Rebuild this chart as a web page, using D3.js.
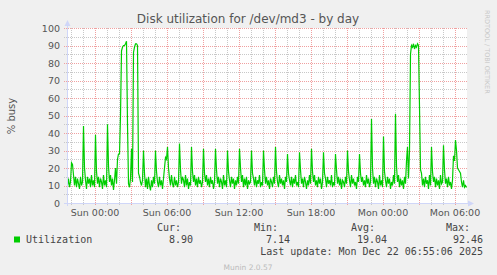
<!DOCTYPE html>
<html>
<head>
<meta charset="utf-8">
<script src="https://cdn.jsdelivr.net/npm/d3@7"></script>
<style>
  body { margin: 0; background: #f0f0f0; }
  text { font-family: "DejaVu Sans", sans-serif; }
  .mono { font-family: "DejaVu Sans Mono", monospace; }
</style>
</head>
<body>
<div id="chart"></div>
<script>
// 5 minute samples, Sat 21:40 -> Mon 06:55, one row per hour (first value = hh:00)
var start = new Date(2025, 11, 20, 21, 40)
var end = new Date(2025, 11, 22, 7, 0)

var utilization = [
    10, 14, 9, 12,                                         // Sat 21:40
    23, 22, 16, 10, 15, 9, 14, 11, 8, 15, 10, 12,          // Sat 22
    44, 20, 13, 8, 15, 11, 14, 9, 16, 10, 13, 9,           // Sat 23
    39, 18, 11, 15, 9, 14, 12, 8, 16, 10, 13, 9,           // Sun 00
    45, 21, 12, 16, 10, 14, 7.5, 13, 20, 11, 25, 28,       // Sun 01
    28, 50, 87, 89, 90, 90, 91, 92.46, 45, 11, 9, 14,      // Sun 02
    31, 12, 86, 89, 91, 91, 90, 17, 15, 12, 10, 13,        // Sun 03
    30, 17, 9, 14, 8, 15, 10, 7.14, 13, 9, 15, 11,         // Sun 04
    30, 18, 12, 9, 15, 10, 13, 8, 14, 20, 26, 25,          // Sun 05
    32, 20, 14, 10, 16, 11, 9, 15, 10, 13, 9, 12,          // Sun 06
    34, 19, 11, 15, 13, 9, 16, 10, 14, 8, 12, 10,          // Sun 07
    32, 18, 12, 16, 10, 14, 9, 15, 11, 13, 9, 12,          // Sun 08
    31, 17, 12, 16, 10, 14, 9, 15, 11, 13, 8, 12,          // Sun 09
    31, 19, 11, 15, 9, 14, 12, 8, 16, 10, 13, 9,           // Sun 10
    30, 18, 13, 9, 15, 11, 14, 8, 13, 10, 15, 11,          // Sun 11
    31, 20, 12, 16, 9, 14, 10, 15, 8, 13, 11, 12,          // Sun 12
    30, 17, 14, 10, 15, 9, 13, 11, 16, 9, 12, 10,          // Sun 13
    30, 19, 11, 15, 10, 13, 8, 14, 12, 9, 15, 11,          // Sun 14
    32, 18, 12, 9, 16, 11, 14, 10, 13, 8, 15, 12,          // Sun 15
    28, 17, 13, 10, 15, 9, 14, 11, 16, 10, 12, 9,          // Sun 16
    29, 19, 11, 14, 9, 15, 12, 8, 13, 10, 16, 11,          // Sun 17
    31, 18, 12, 16, 10, 13, 9, 15, 11, 14, 8, 12,          // Sun 18
    29, 17, 14, 9, 15, 11, 13, 10, 16, 9, 12, 10,          // Sun 19
    28, 19, 11, 15, 10, 14, 8, 13, 12, 9, 15, 11,          // Sun 20
    30, 18, 13, 9, 16, 11, 14, 10, 12, 8, 15, 12,          // Sun 21
    28, 17, 12, 15, 10, 13, 9, 16, 11, 14, 9, 12,          // Sun 22
    48, 20, 11, 15, 9, 14, 12, 8, 16, 10, 13, 9,           // Sun 23
    38, 18, 13, 9, 15, 11, 14, 8, 12, 10, 16, 11,          // Mon 00
    51, 21, 12, 16, 9, 14, 10, 13, 8, 15, 11, 24,          // Mon 01
    32, 14, 30, 85, 90, 89, 91, 88, 90, 89, 91, 90,        // Mon 02
    55, 19, 17, 10, 14, 9, 15, 11, 13, 8, 16, 10,          // Mon 03
    32, 18, 12, 15, 9, 14, 10, 13, 8, 16, 11, 12,          // Mon 04
    33, 19, 11, 14, 9, 15, 10, 12, 8, 13, 27, 24,          // Mon 05
    36, 30, 20, 19, 18, 17, 12, 9, 13, 9, 10, 8.9          // Mon 06
]

var yTicks = [0, 10, 20, 30, 40, 50, 60, 70, 80, 90, 100]
var statLabels = ["Cur:", "Min:", "Avg:", "Max:"]
var statValues = ["8.90", "7.14", "19.04", "92.46"]

var width = 497,
    height = 275

var svg = d3.select("#chart")
    .append("svg")
    .attr("width", width)
    .attr("height", height)

svg.append("rect")
    .attr("width", width)
    .attr("height", height)
    .attr("fill", "#f0f0f0")

var x = d3.scaleTime().domain([start, end]).range([67, 467])
var y = d3.scaleLinear().domain([0, 100]).range([203, 28])

var points = utilization.map(function(v, i) {
    return { t: d3.timeMinute.offset(start, i * 5), v: v }
})

// canvas
svg.append("rect")
    .attr("x", 67)
    .attr("y", 28)
    .attr("width", 400)
    .attr("height", 175)
    .attr("fill", "#ffffff")

var grid = svg.append("g")

// minor grid
grid.selectAll(".hminor")
    .data(d3.range(5, 100, 10))
    .enter().append("line")
    .attr("x1", 64).attr("x2", 467)
    .attr("y1", function(d) { return Math.round(y(d)) + 0.5 })
    .attr("y2", function(d) { return Math.round(y(d)) + 0.5 })
    .attr("stroke", "#c8c8c8")
    .attr("stroke-dasharray", "1,1")

grid.selectAll(".vminor")
    .data(d3.timeHour.range(start, end).filter(function(d) { return d.getHours() % 3 != 0 }))
    .enter().append("line")
    .attr("x1", function(d) { return Math.round(x(d)) + 0.5 })
    .attr("x2", function(d) { return Math.round(x(d)) + 0.5 })
    .attr("y1", 28).attr("y2", 206)
    .attr("stroke", "#c8c8c8")
    .attr("stroke-dasharray", "1,1")

// major grid
grid.selectAll(".hmajor")
    .data(yTicks.slice(1))
    .enter().append("line")
    .attr("x1", 64).attr("x2", 467)
    .attr("y1", function(d) { return Math.round(y(d)) + 0.5 })
    .attr("y2", function(d) { return Math.round(y(d)) + 0.5 })
    .attr("stroke", "#f0a0a0")
    .attr("stroke-dasharray", "1,1")

grid.selectAll(".vmajor")
    .data(d3.timeHour.every(3).range(start, end))
    .enter().append("line")
    .attr("x1", function(d) { return Math.round(x(d)) + 0.5 })
    .attr("x2", function(d) { return Math.round(x(d)) + 0.5 })
    .attr("y1", 28).attr("y2", 206)
    .attr("stroke", "#f0a0a0")
    .attr("stroke-dasharray", "1,1")

// data line
var line = d3.line()
    .x(function(d) { return x(d.t) + 0.5 })
    .y(function(d) { return y(d.v) })

svg.append("path")
    .datum(points)
    .attr("d", line)
    .attr("fill", "none")
    .attr("stroke", "#00cc00")
    .attr("stroke-width", 1.2)

// axes with arrows
var axisColor = "#cfd6f8"
svg.append("line")
    .attr("x1", 64).attr("x2", 469)
    .attr("y1", 203.5).attr("y2", 203.5)
    .attr("stroke", axisColor)
svg.append("path")
    .attr("d", "M468,200.5L474,203.5L468,206.5Z")
    .attr("fill", axisColor)
svg.append("line")
    .attr("x1", 67.5).attr("x2", 67.5)
    .attr("y1", 206).attr("y2", 24)
    .attr("stroke", axisColor)
svg.append("path")
    .attr("d", "M64.5,26L67.5,20L70.5,26Z")
    .attr("fill", axisColor)

// y labels
svg.selectAll(".ylab")
    .data(yTicks)
    .enter().append("text")
    .attr("x", 60)
    .attr("y", function(d) { return y(d) + 3.5 })
    .attr("text-anchor", "end")
    .attr("font-size", "9.5px")
    .attr("fill", "#555")
    .text(function(d) { return d })

// x labels
var fmt = d3.timeFormat("%a %H:%M")
svg.selectAll(".xlab")
    .data(d3.timeHour.every(6).range(start, end))
    .enter().append("text")
    .attr("x", function(d) { return x(d) })
    .attr("y", 216)
    .attr("text-anchor", "middle")
    .attr("font-size", "9.5px")
    .attr("fill", "#555")
    .text(function(d) { return fmt(d) })

// title
svg.append("text")
    .attr("x", 248)
    .attr("y", 23)
    .attr("text-anchor", "middle")
    .attr("font-size", "12px")
    .attr("fill", "#555")
    .text("Disk utilization for /dev/md3 - by day")

svg.append("text")
    .attr("transform", "translate(15,116) rotate(-90)")
    .attr("text-anchor", "middle")
    .attr("font-size", "10px")
    .attr("fill", "#555")
    .text("% busy")

svg.append("text")
    .attr("transform", "translate(485,10) rotate(90)")
    .attr("font-size", "6.5px")
    .attr("fill", "#c8c8c8")
    .text("RRDTOOL / TOBI OETIKER")

// legend
var statX = [181, 278, 375, 470]
var valX = [193, 290, 387, 483]

svg.append("rect")
    .attr("x", 14).attr("y", 236.5)
    .attr("width", 6).attr("height", 6)
    .attr("fill", "#00cc00")

svg.append("text")
    .attr("class", "mono")
    .attr("x", 26).attr("y", 243)
    .attr("font-size", "10px")
    .attr("fill", "#444")
    .text("Utilization")

svg.selectAll(".stathead")
    .data(statLabels)
    .enter().append("text")
    .attr("class", "mono")
    .attr("x", function(d, i) { return statX[i] })
    .attr("y", 231)
    .attr("text-anchor", "end")
    .attr("font-size", "10px")
    .attr("fill", "#444")
    .text(function(d) { return d })

svg.selectAll(".statval")
    .data(statValues)
    .enter().append("text")
    .attr("class", "mono")
    .attr("x", function(d, i) { return valX[i] })
    .attr("y", 243)
    .attr("text-anchor", "end")
    .attr("font-size", "10px")
    .attr("fill", "#444")
    .text(function(d) { return d })

svg.append("text")
    .attr("class", "mono")
    .attr("x", 483).attr("y", 255)
    .attr("text-anchor", "end")
    .attr("font-size", "10px")
    .attr("fill", "#444")
    .text("Last update: Mon Dec 22 06:55:06 2025")

svg.append("text")
    .attr("x", 248).attr("y", 270)
    .attr("text-anchor", "middle")
    .attr("font-size", "7.5px")
    .attr("fill", "#bbb")
    .text("Munin 2.0.57")
</script>
</body>
</html>
